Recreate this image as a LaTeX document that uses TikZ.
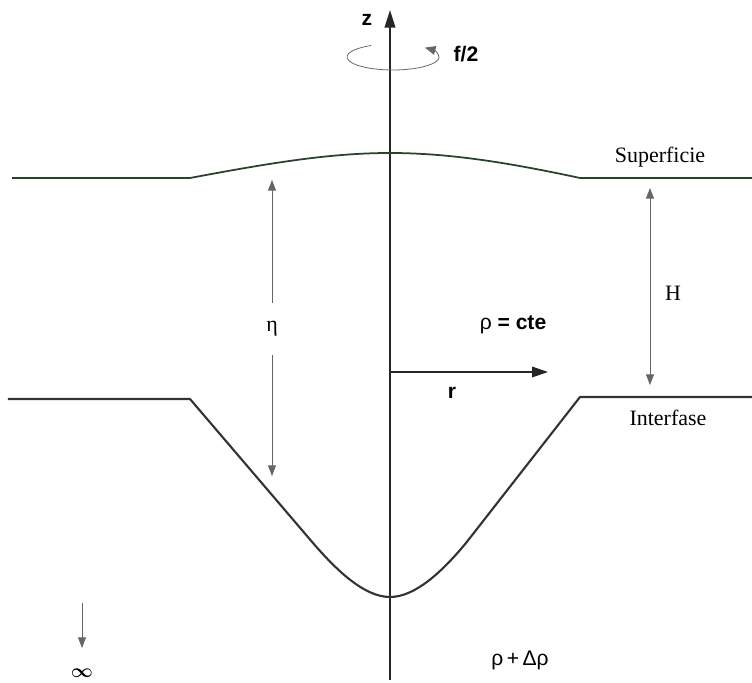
\documentclass[tikz,border=0pt]{standalone}
\usepackage{fontspec}
\setmainfont{Liberation Serif}
\setsansfont{Liberation Sans}
\usetikzlibrary{arrows.meta}

\definecolor{surfgreen}{rgb}{0.16,0.26,0.16}

\begin{document}
\begin{tikzpicture}[x=0.02cm, y=0.02cm,
  font=\fontsize{12}{14}\selectfont,
  axis/.style={draw=black!85, line width=1.1pt},
  layer/.style={draw=black!80, line width=1.2pt, line join=round},
  surf/.style={draw=surfgreen, line width=1pt, line join=round},
  dim/.style={draw=black!60, line width=0.45pt,
              {Triangle[length=6pt,width=4.5pt]}-{Triangle[length=6pt,width=4.5pt]}},
  tip/.style={draw=black!60, line width=0.45pt, -{Triangle[length=6pt,width=4.5pt]}},
  sym/.style={font=\fontsize{12}{14}\selectfont\sffamily\bfseries},
  lbl/.style={font=\fontsize{12.5}{14}\selectfont}]
\useasboundingbox (0,0) rectangle (752,683);

% rotation axis
\coordinate (ax0) at (390,3);
\coordinate (ax1) at (390,673);
\draw[axis, -{Triangle[length=10pt,width=6pt]}] (ax0) -- (ax1);
\node[sym] (z) at (367,663) {z};

% sense of rotation
\coordinate (spin) at (393,626);
\draw[draw=black!60, line width=0.45pt, -{Triangle[length=6pt,width=5pt]}]
  ([shift={(118:46 and 13)}]spin) arc[start angle=118, end angle=406,
  x radius=46, y radius=13];
\node[sym] (f) at (466,629) {f/2};

% free surface
\draw[surf] (12,505) -- (190,505) .. controls (270,520) and (330,530) .. (390,530)
  .. controls (450,530) and (510,520) .. (580,505) -- (752,505);
\node[lbl] (sup) at (660,526) {Superficie};

% interface
\draw[layer] (8,284) -- (190,284) -- (313,140) .. controls (338,111) and (365,86) .. (390,86)
  .. controls (415,86) and (442,111) .. (466,140) -- (580,286) -- (752,286);
\node[lbl] (intf) at (668,265) {Interfase};

% eta
\coordinate (eta0) at (272,503);
\coordinate (eta1) at (272,207);
\node[lbl, minimum height=1.04cm, inner sep=0pt] (eta) at (272,354) {η};
\draw[tip] (eta) -- (eta0);
\draw[tip] (eta) -- (eta1);

% layer depth
\coordinate (H0) at (650,495);
\coordinate (H1) at (650,298);
\draw[dim] (H0) -- (H1);
\node[lbl] (H) at (673,390) {H};

% radial direction
\coordinate (r1) at (548,311);
\draw[draw=black!85, line width=0.8pt, -{Triangle[length=9pt,width=6pt]}] (ax0 |- r1) -- (r1);
\node[sym] (r) at (452,290) {r};

% densities
\node[font=\fontsize{12}{14}\selectfont\sffamily] (rho1) at (513,358) {ρ \textbf{= cte}};
\node[font=\fontsize{12}{14}\selectfont\sffamily] (rho2) at (520,23) {ρ\,+\,Δρ};

% towards infinity
\coordinate (deep0) at (82,80);
\coordinate (deep1) at (82,35);
\draw[tip] (deep0) -- (deep1);
\node[font=\fontsize{10.5}{12}\selectfont\boldmath] (deep) at (82,10) {$\infty$};
\end{tikzpicture}
\end{document}
